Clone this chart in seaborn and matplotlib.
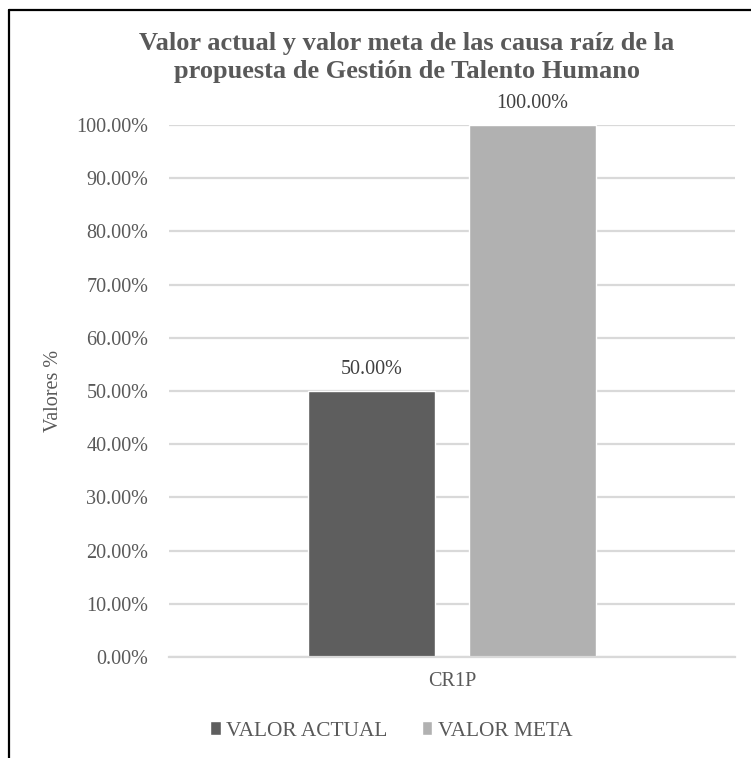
import matplotlib
matplotlib.use("Agg")
import matplotlib.pyplot as plt
from matplotlib.lines import Line2D
import seaborn as sns
import pandas as pd

# Chart data
categories = ["CR1P"]
series = ["VALOR ACTUAL", "VALOR META"]
actual_values = [50.0]
target_values = [100.0]
y_ticks = [0, 10, 20, 30, 40, 50, 60, 70, 80, 90, 100]

title_text = ("Valor actual y valor meta de las causa raíz de la\n"
              "propuesta de Gestión de Talento Humano")
y_label = "Valores %"

df = pd.DataFrame({
    "categoria": categories * 2,
    "serie": [series[0]] * len(categories) + [series[1]] * len(categories),
    "valor": actual_values + target_values,
})

sns.set_theme(style="white")
plt.rcParams["font.family"] = ["Liberation Serif", "DejaVu Serif"]

text_grey = "#595959"
grid_grey = "#d9d9d9"
palette = {series[0]: "#5e5e5e", series[1]: "#b1b1b1"}

W, H = 751, 758
fig = plt.figure(figsize=(W / 100, H / 100), dpi=100)
ax = fig.add_axes([169 / W, 1 - 657 / H, (735 - 169) / W, (657 - 125) / H])

sns.barplot(data=df, x="categoria", y="valor", hue="serie", palette=palette,
            width=0.57, gap=0.21, ax=ax, legend=True, saturation=1)

ax.set_xlim(-0.5, 0.5)
ax.set_ylim(0, 100)
ax.set_yticks(y_ticks)
ax.set_yticklabels([f"{t:.2f}%" for t in y_ticks])
ax.yaxis.grid(True, color=grid_grey, linewidth=1.6)
ax.set_axisbelow(True)
for side in ["left", "right", "top"]:
    ax.spines[side].set_visible(False)
ax.spines["bottom"].set_color(grid_grey)
ax.spines["bottom"].set_linewidth(1.6)

ax.tick_params(axis="y", length=0, pad=15, labelsize=14.5, labelcolor=text_grey)
ax.tick_params(axis="x", length=0, pad=11, labelsize=14.5, labelcolor=text_grey)
ax.set_xlabel("")
ax.set_ylabel(y_label, fontsize=14.5, color=text_grey)
ax.yaxis.set_label_coords(-0.188, 0.5)

for container in ax.containers:
    ax.bar_label(container, fmt="%.2f%%", padding=9, fontsize=14.5, color="#404040")

# legend below the plot area
handles, labels = ax.get_legend_handles_labels()
ax.get_legend().remove()
fig.legend(handles, labels, loc="center", bbox_to_anchor=(391 / W, 1 - 731 / H),
           ncol=2, frameon=False, fontsize=15.4, labelcolor=text_grey,
           handlelength=0.5, handleheight=0.65, handletextpad=0.25, columnspacing=1.6)

fig.text(407 / W, 1 - 57.5 / H, title_text, ha="center", va="center",
         multialignment="center", fontsize=19, fontweight="bold",
         color=text_grey, linespacing=1.3)

# chart frame (left and top edges)
fig.add_artist(Line2D([8.5 / W, 8.5 / W], [0, 1 - 10 / H], color="black", linewidth=1.6))
fig.add_artist(Line2D([8.5 / W, 1], [1 - 10 / H, 1 - 10 / H], color="black", linewidth=1.6))

fig.savefig("out.png", dpi=100, facecolor="white")
